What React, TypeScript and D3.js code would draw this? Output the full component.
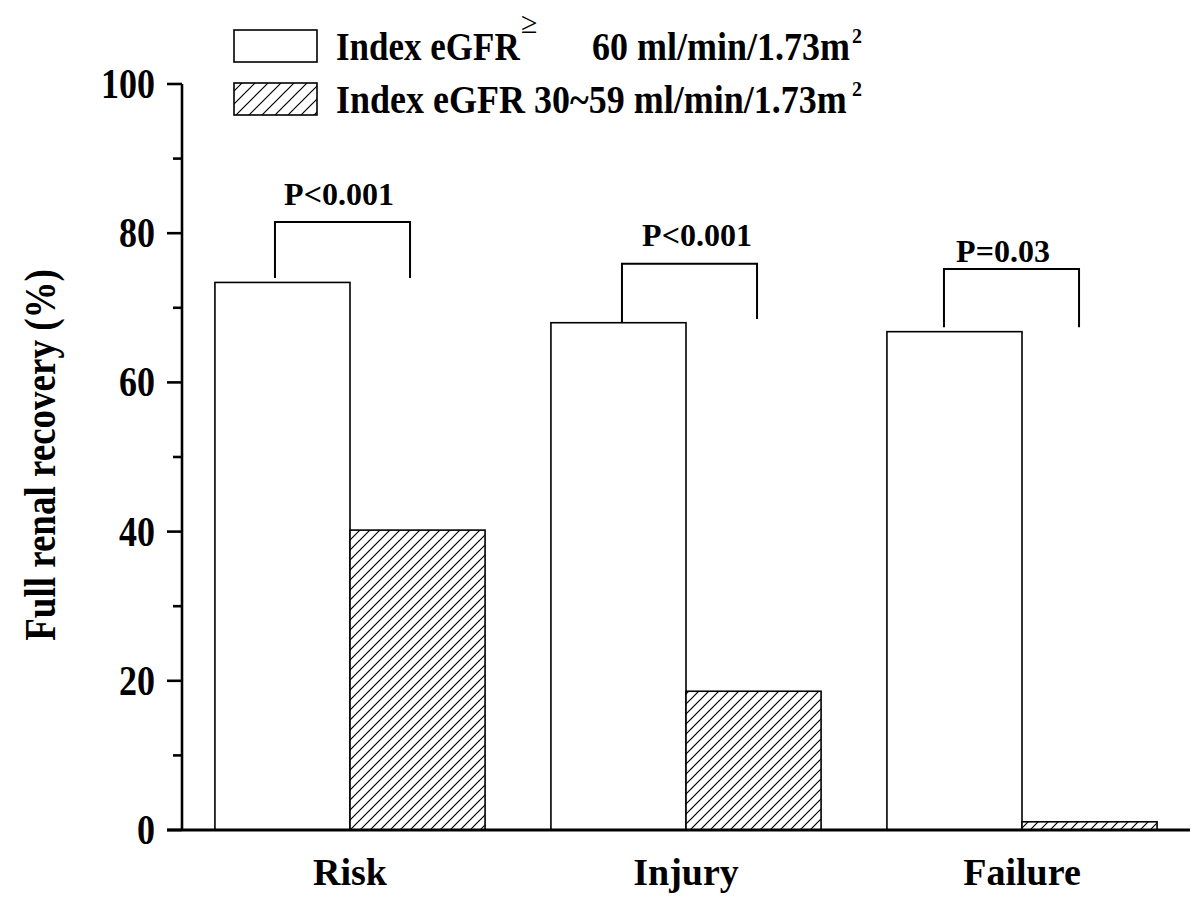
import React from "react";
import * as d3 from "d3";

const categories = ["Risk", "Injury", "Failure"];
const seriesNames = ["Index eGFR ≥ 60", "Index eGFR 30~59"];
const highEGFR = [73.4, 68.0, 66.8];
const midEGFR = [40.2, 18.6, 1.1];
const yTicks = [0, 20, 40, 60, 80, 100];
const yMinorTicks = [10, 30, 50, 70, 90];
const pLabels = ["P<0.001", "P<0.001", "P=0.03"];
const bracketTop = [81.5, 75.9, 75.2];
const bracketLeftEnd = [74.0, 68.1, 67.4];
const bracketRightEnd = [74.0, 68.5, 67.4];
const pLabelValue = [83.8, 78.3, 76.1];

const FONT = "'Liberation Serif', 'Times New Roman', serif";

export default function App() {
  const width = 1200;
  const height = 901;
  const y = d3.scaleLinear().domain([0, 100]).range([830, 84]);
  const x = d3
    .scaleBand<string>()
    .domain(categories)
    .range([182, 1190])
    .paddingInner(0.196)
    .paddingOuter(0.098);
  const xs = d3.scaleBand<number>().domain([0, 1]).range([0, x.bandwidth()]).padding(0);
  const bw = xs.bandwidth();
  const series = [highEGFR, midEGFR];
  const bracketShift = [-7.5, 3.5, -10.5];
  const labelShift = [-3.5, 7.5, -8.5];

  return (
    <svg
      width={width}
      height={height}
      viewBox={`0 0 ${width} ${height}`}
      style={{ position: "absolute", left: 0, top: 0, background: "#fff" }}
      fontFamily={FONT}
      fontWeight="bold"
    >
      <defs>
        <pattern id="hatch" patternUnits="userSpaceOnUse" width={10} height={10}>
          <rect width={10} height={10} fill="#fff" />
          <path d="M-2,2 L2,-2 M0,10 L10,0 M8,12 L12,8" stroke="#000" strokeWidth={1.2} />
        </pattern>
        <pattern id="hatchLeg" patternUnits="userSpaceOnUse" width={13} height={13}>
          <rect width={13} height={13} fill="#fff" />
          <path d="M-2,2 L2,-2 M0,13 L13,0 M11,15 L15,11" stroke="#000" strokeWidth={1.2} />
        </pattern>
      </defs>
      <rect width={width} height={height} fill="#fff" />

      {/* bars */}
      {categories.map((c, i) =>
        series.map((s, j) => (
          <rect
            key={`${c}-${j}`}
            x={(x(c) as number) + (xs(j) as number)}
            y={y(s[i])}
            width={bw}
            height={y(0) - y(s[i])}
            fill={j === 0 ? "#fff" : "url(#hatch)"}
            stroke="#000"
            strokeWidth={1.6}
          />
        ))
      )}

      {/* brackets and p labels */}
      {categories.map((c, i) => {
        const xl = (x(c) as number) + (xs(0) as number) + bw / 2 + bracketShift[i];
        const xr = (x(c) as number) + (xs(1) as number) + bw / 2 + bracketShift[i];
        return (
          <g key={`p-${c}`}>
            <path
              d={`M${xl},${y(bracketLeftEnd[i])} V${y(bracketTop[i])} H${xr} V${y(bracketRightEnd[i])}`}
              fill="none"
              stroke="#000"
              strokeWidth={2}
            />
            <text
              x={(xl + xr) / 2 + labelShift[i]}
              y={y(pLabelValue[i])}
              textAnchor="middle"
              fontSize={32}
            >
              {pLabels[i]}
            </text>
          </g>
        );
      })}

      {/* axes */}
      <line x1={182} x2={182} y1={y(100)} y2={y(0)} stroke="#000" strokeWidth={2.6} />
      <line x1={167} x2={1190} y1={y(0)} y2={y(0)} stroke="#000" strokeWidth={3} />
      {yTicks.map((t) => (
        <g key={`t${t}`}>
          <line x1={167} x2={182} y1={y(t)} y2={y(t)} stroke="#000" strokeWidth={2.6} />
          <g transform={`translate(155,${y(t)}) scale(1,1.15)`}>
            <text textAnchor="end" dy="0.34em" fontSize={36}>
              {t}
            </text>
          </g>
        </g>
      ))}
      {yMinorTicks.map((t) => (
        <line key={`m${t}`} x1={173} x2={182} y1={y(t)} y2={y(t)} stroke="#000" strokeWidth={2.6} />
      ))}

      {/* x labels */}
      {categories.map((c) => (
        <text
          key={`xl-${c}`}
          x={(x(c) as number) + x.bandwidth() / 2}
          y={885}
          textAnchor="middle"
          fontSize={38}
        >
          {c}
        </text>
      ))}

      {/* y title */}
      <g transform={`translate(55,455) rotate(-90) scale(1,1.2)`}>
        <text textAnchor="middle" fontSize={37}>
          Full renal recovery (%)
        </text>
      </g>

      {/* legend */}
      <rect x={234} y={30} width={83} height={32} fill="#fff" stroke="#000" strokeWidth={1.6} />
      <rect x={234} y={83} width={83} height={32} fill="url(#hatchLeg)" stroke="#000" strokeWidth={1.6} />
      <g transform="translate(0,60) scale(1,1.12)">
        <text x={336} y={0} fontSize={35}>
          Index eGFR
        </text>
        <text x={850} y={0} fontSize={36} textAnchor="end">
          60 ml/min/1.73m
        </text>
      </g>
      <text x={521} y={33} fontSize={30} fontWeight="normal">
        {"≥"}
      </text>
      <text x={852} y={43} fontSize={20}>
        2
      </text>
      <g transform="translate(0,113) scale(1,1.12)">
        <text x={336} y={0} fontSize={36}>
          Index eGFR 30~59 ml/min/1.73m
        </text>
      </g>
      <text x={852} y={96} fontSize={20}>
        2
      </text>
    </svg>
  );
}
